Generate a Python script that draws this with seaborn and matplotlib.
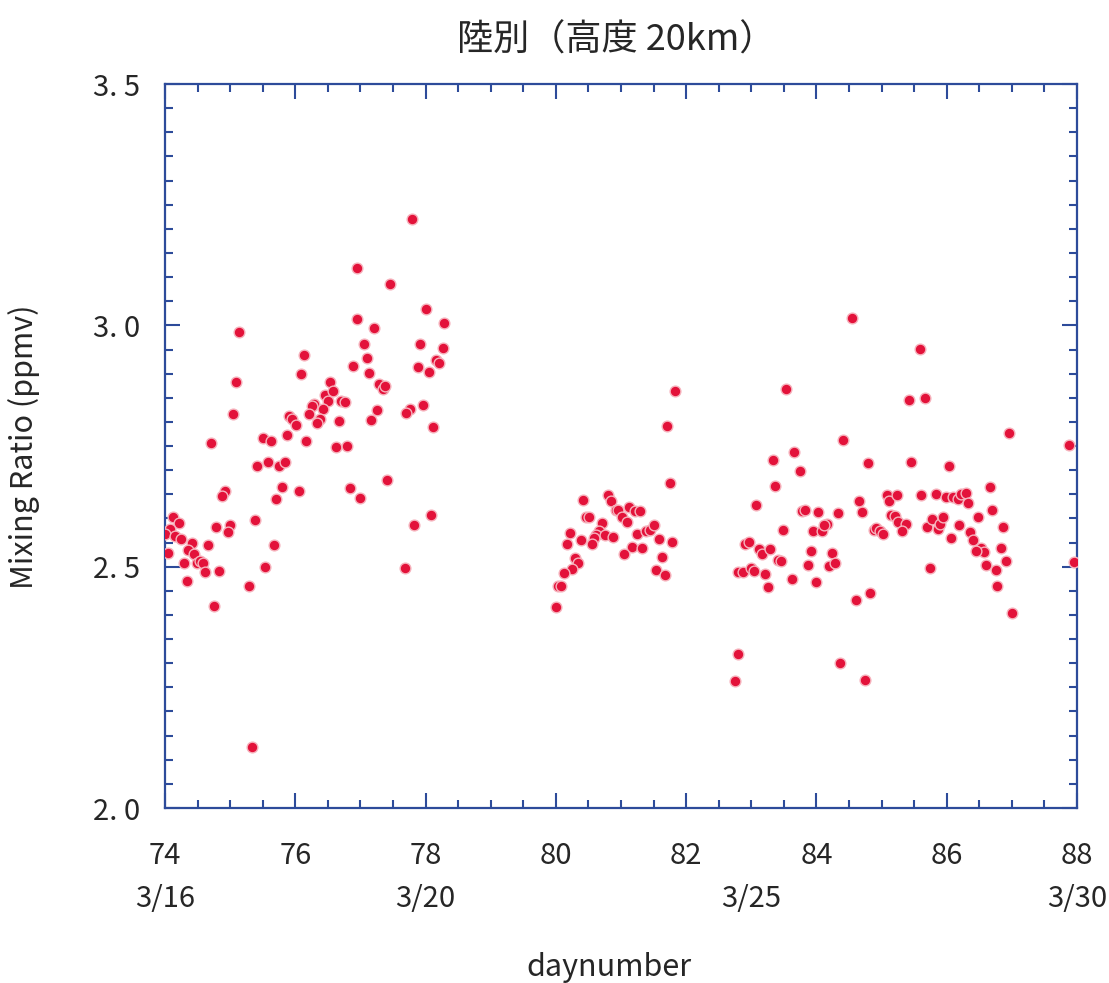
import numpy as np
import pandas as pd
import seaborn as sns
import matplotlib.pyplot as plt
from matplotlib.ticker import MultipleLocator, FuncFormatter

# --------- #
# Data: day number vs mixing ratio (ppmv)

# 3/16 - 3/20
days_a = [77.79, 76.95, 77.46, 78.00, 76.94, 78.29, 75.13, 77.21, 77.05, 77.92,
          78.26, 76.13, 77.10, 78.16, 78.20, 76.88, 77.88, 78.05, 76.09, 75.09,
          77.13, 76.54, 77.28, 77.34, 77.38, 76.46, 76.58, 76.50, 76.70, 76.76,
          76.29, 76.25, 76.43, 76.21, 75.04, 77.25, 77.96, 77.76, 77.70, 75.91,
          75.95, 76.38, 76.01, 76.33, 76.67, 77.16, 78.12, 75.87, 75.50, 75.63,
          76.17, 74.70, 76.63, 76.79, 75.41, 75.58, 75.75, 75.84, 77.41, 75.79,
          76.84, 74.92, 74.87, 76.05, 77.00, 75.70, 74.12, 74.21, 75.38, 74.08,
          74.00, 74.16, 74.25, 74.79, 74.99, 74.96, 78.08, 77.83, 74.41, 74.66,
          75.67, 74.04, 74.36, 74.45, 74.29, 74.49, 74.53, 74.58, 74.62, 74.83,
          75.54, 77.68, 74.33, 75.29, 74.75, 75.33]
ratio_a = [3.220, 3.119, 3.086, 3.034, 3.013, 3.005, 2.986, 2.994, 2.962, 2.961,
           2.953, 2.939, 2.933, 2.928, 2.923, 2.916, 2.914, 2.903, 2.899, 2.883,
           2.901, 2.883, 2.878, 2.868, 2.875, 2.856, 2.863, 2.843, 2.844, 2.841,
           2.838, 2.833, 2.826, 2.817, 2.816, 2.825, 2.834, 2.827, 2.819, 2.812,
           2.807, 2.807, 2.794, 2.798, 2.802, 2.804, 2.790, 2.773, 2.767, 2.760,
           2.760, 2.757, 2.749, 2.750, 2.709, 2.716, 2.709, 2.717, 2.680, 2.665,
           2.664, 2.657, 2.646, 2.657, 2.643, 2.640, 2.603, 2.590, 2.597, 2.578,
           2.567, 2.563, 2.557, 2.582, 2.586, 2.572, 2.608, 2.586, 2.549, 2.545,
           2.545, 2.529, 2.534, 2.526, 2.508, 2.508, 2.512, 2.507, 2.490, 2.492,
           2.499, 2.497, 2.470, 2.461, 2.418, 2.126]

# 3/22 - 3/23
days_b = [81.83, 81.71, 81.75, 80.41, 80.80, 80.84, 80.47, 80.51, 80.93, 80.96,
          81.12, 81.21, 81.29, 81.02, 81.09, 80.71, 80.66, 80.62, 80.58, 80.55,
          80.76, 80.88, 80.21, 80.17, 80.38, 81.25, 81.38, 81.45, 81.51, 81.59,
          81.79, 81.17, 81.33, 81.04, 81.63, 80.29, 80.34, 80.25, 80.12, 81.54,
          81.67, 80.04, 80.08, 80.01]
ratio_b = [2.865, 2.792, 2.673, 2.638, 2.648, 2.636, 2.602, 2.602, 2.617, 2.617,
           2.623, 2.615, 2.616, 2.602, 2.593, 2.591, 2.574, 2.566, 2.559, 2.546,
           2.566, 2.562, 2.570, 2.546, 2.555, 2.568, 2.575, 2.576, 2.586, 2.558,
           2.552, 2.541, 2.539, 2.527, 2.521, 2.519, 2.508, 2.495, 2.486, 2.493,
           2.482, 2.460, 2.460, 2.416]

# 3/24 - 3/30
days_c = [83.54, 84.41, 83.66, 83.33, 84.79, 83.75, 83.37, 83.08, 84.66, 84.70,
          85.08, 85.11, 85.23, 83.78, 83.83, 84.03, 84.33, 85.15, 85.20, 85.26,
          83.49, 83.95, 84.09, 84.16, 84.12, 84.88, 84.92, 84.98, 85.03, 82.90,
          82.96, 83.12, 83.16, 83.29, 83.92, 84.24, 83.41, 83.46, 83.87, 84.20,
          84.29, 82.80, 82.88, 83.00, 83.04, 83.21, 83.62, 83.25, 84.00, 84.61,
          84.82, 82.79, 84.37, 82.75, 84.74, 84.54, 85.59, 85.42, 85.66, 86.96,
          87.88, 85.45, 86.04, 86.66, 85.61, 85.83, 85.99, 86.10, 86.17, 86.22,
          86.29, 86.33, 86.70, 85.37, 85.32, 85.70, 85.78, 85.87, 85.90, 85.95,
          86.19, 86.48, 86.07, 86.36, 86.41, 86.87, 86.53, 86.58, 86.45, 86.83,
          86.61, 86.75, 86.91, 85.74, 86.78, 87.01, 87.95]
ratio_c = [2.868, 2.763, 2.738, 2.721, 2.714, 2.699, 2.667, 2.628, 2.636, 2.614,
           2.648, 2.637, 2.648, 2.616, 2.618, 2.613, 2.611, 2.607, 2.605, 2.593,
           2.577, 2.574, 2.575, 2.588, 2.587, 2.577, 2.581, 2.574, 2.568, 2.546,
           2.551, 2.536, 2.526, 2.537, 2.533, 2.528, 2.514, 2.512, 2.504, 2.501,
           2.507, 2.488, 2.488, 2.498, 2.491, 2.485, 2.475, 2.457, 2.468, 2.431,
           2.446, 2.319, 2.301, 2.263, 2.266, 3.015, 2.952, 2.845, 2.850, 2.778,
           2.753, 2.717, 2.708, 2.665, 2.648, 2.651, 2.644, 2.644, 2.640, 2.651,
           2.653, 2.633, 2.617, 2.588, 2.575, 2.583, 2.599, 2.578, 2.588, 2.604,
           2.586, 2.602, 2.560, 2.572, 2.556, 2.583, 2.539, 2.531, 2.533, 2.538,
           2.503, 2.494, 2.512, 2.497, 2.461, 2.405, 2.509]

# date labels under the day numbers
date_days = [74, 78, 83, 88]
date_labels = ["3/16", "3/20", "3/25", "3/30"]

# --------- #

df = pd.DataFrame({
    "day": days_a + days_b + days_c,
    "ratio": ratio_a + ratio_b + ratio_c,
})

sns.set_style("ticks")
plt.rcParams['font.family'] = ['Noto Sans CJK JP', 'DejaVu Sans']

blue = "#2d4b9a"
red = "#e3123a"

fig = plt.figure(figsize=(11.09, 9.83), dpi=100)
ax = fig.add_axes([0.1488, 0.178, 0.8223, 0.7365])

sns.scatterplot(x="day", y="ratio", data=df, ax=ax, color=red, s=60,
                edgecolor="#f6b3bd", linewidth=1.0, zorder=3)

ax.set_xlim(74, 88)
ax.set_ylim(2.0, 3.5)
ax.xaxis.set_major_locator(MultipleLocator(2))
ax.xaxis.set_minor_locator(MultipleLocator(0.5))
ax.yaxis.set_major_locator(MultipleLocator(0.5))
ax.yaxis.set_minor_locator(MultipleLocator(0.05))
ax.yaxis.set_major_formatter(FuncFormatter(lambda v, p: f"{v:.1f}".replace(".", ". ")))

for side in ax.spines.values():
    side.set_color(blue)
    side.set_linewidth(1.6)

ax.tick_params(which="both", direction="in", top=True, right=True, color=blue, width=1.5)
ax.tick_params(which="major", length=11)
ax.tick_params(which="minor", length=6)
ax.tick_params(axis="x", which="major", pad=24, labelsize=21)
ax.tick_params(axis="y", which="major", pad=18, labelsize=21)

ax.set_xlabel("")
ax.set_ylabel("")

# second row of labels: dates
for d, lab in zip(date_days, date_labels):
    ax.text(d, -0.126, lab, transform=ax.get_xaxis_transform(),
            ha="center", va="center", fontsize=21)

fig.text(0.549, 0.016, "daynumber", ha="center", va="center", fontsize=22)
fig.text(0.022, 0.546, "Mixing Ratio (ppmv)", ha="center", va="center",
         rotation=90, fontsize=22)
fig.text(0.556, 0.959, "陸別（高度 20km）", ha="center", va="center", fontsize=26)

plt.savefig("out.png", dpi=100)
